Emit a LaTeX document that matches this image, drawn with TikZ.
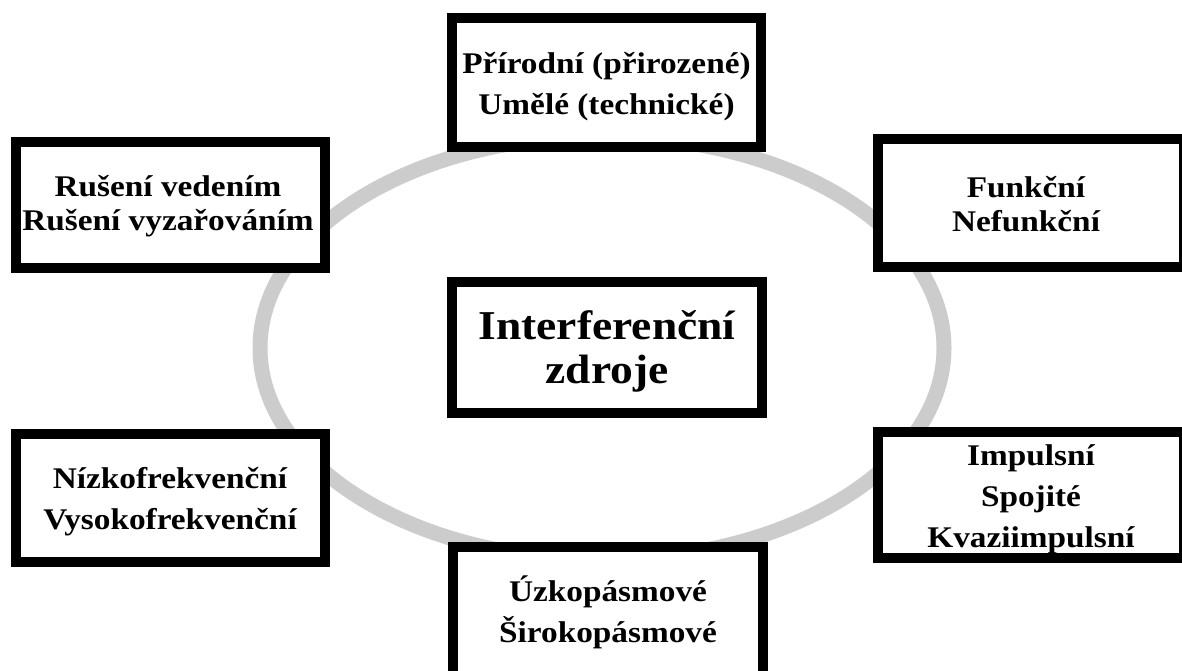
\documentclass[tikz,border=0pt]{standalone}
\usepackage{fontspec}
\setmainfont{Liberation Serif}[FakeStretch=1.11]
\begin{document}
\begin{tikzpicture}[x=1pt,y=-1pt,
  catbox/.style={draw=black,fill=white,line width=10pt,inner sep=0pt},
  cattext/.style={align=center,inner sep=0pt,font=\bfseries\fontsize{30}{41}\selectfont},
  smalltext/.style={cattext,font=\bfseries\fontsize{30}{34}\selectfont},
  maintext/.style={cattext,font=\bfseries\fontsize{41}{44}\selectfont}]
\clip (0,0) rectangle (1182,671);
\fill[white] (0,0) rectangle (1182,671);
\draw[line width=15pt,black!20] (602,348) ellipse [x radius=342, y radius=212];
% boxes
\node[catbox,minimum width=309pt,minimum height=129pt] (top) at (606.5,82.5) {};
\node[catbox,minimum width=309pt,minimum height=125pt] (lt) at (170,205) {};
\node[catbox,minimum width=306pt,minimum height=128pt] (rt) at (1031,203) {};
\node[catbox,minimum width=310pt,minimum height=131pt] (mid) at (607,347.5) {};
\node[catbox,minimum width=309pt,minimum height=128pt] (lb) at (170,497.5) {};
\node[catbox,minimum width=306pt,minimum height=126pt] (rb) at (1031,495) {};
\node[catbox,minimum width=310pt,minimum height=133pt] (bot) at (608,613.5) {};
% texts
\node[cattext] (topT) at ([yshift=-4pt]top.center) {Přírodní (přirozené)\\Umělé (technické)};
\node[smalltext] (ltT) at ([xshift=-2pt,yshift=-1pt]lt.center) {Rušení vedením\\Rušení vyzařováním};
\node[smalltext] (rtT) at ([xshift=-5pt,yshift=-1pt]rt.center) {Funkční\\Nefunkční};
\node[maintext] (midT) at ([yshift=-4pt]mid.center) {Interferenční\\zdroje};
\node[cattext] (lbT) at ([yshift=-4pt]lb.center) {Nízkofrekvenční\\Vysokofrekvenční};
\node[cattext] (rbT) at ([yshift=-4pt]rb.center) {Impulsní\\Spojité\\Kvaziimpulsní};
\node[cattext] (botT) at ([yshift=1pt]bot.center) {Úzkopásmové\\Širokopásmové};
\end{tikzpicture}
\end{document}
